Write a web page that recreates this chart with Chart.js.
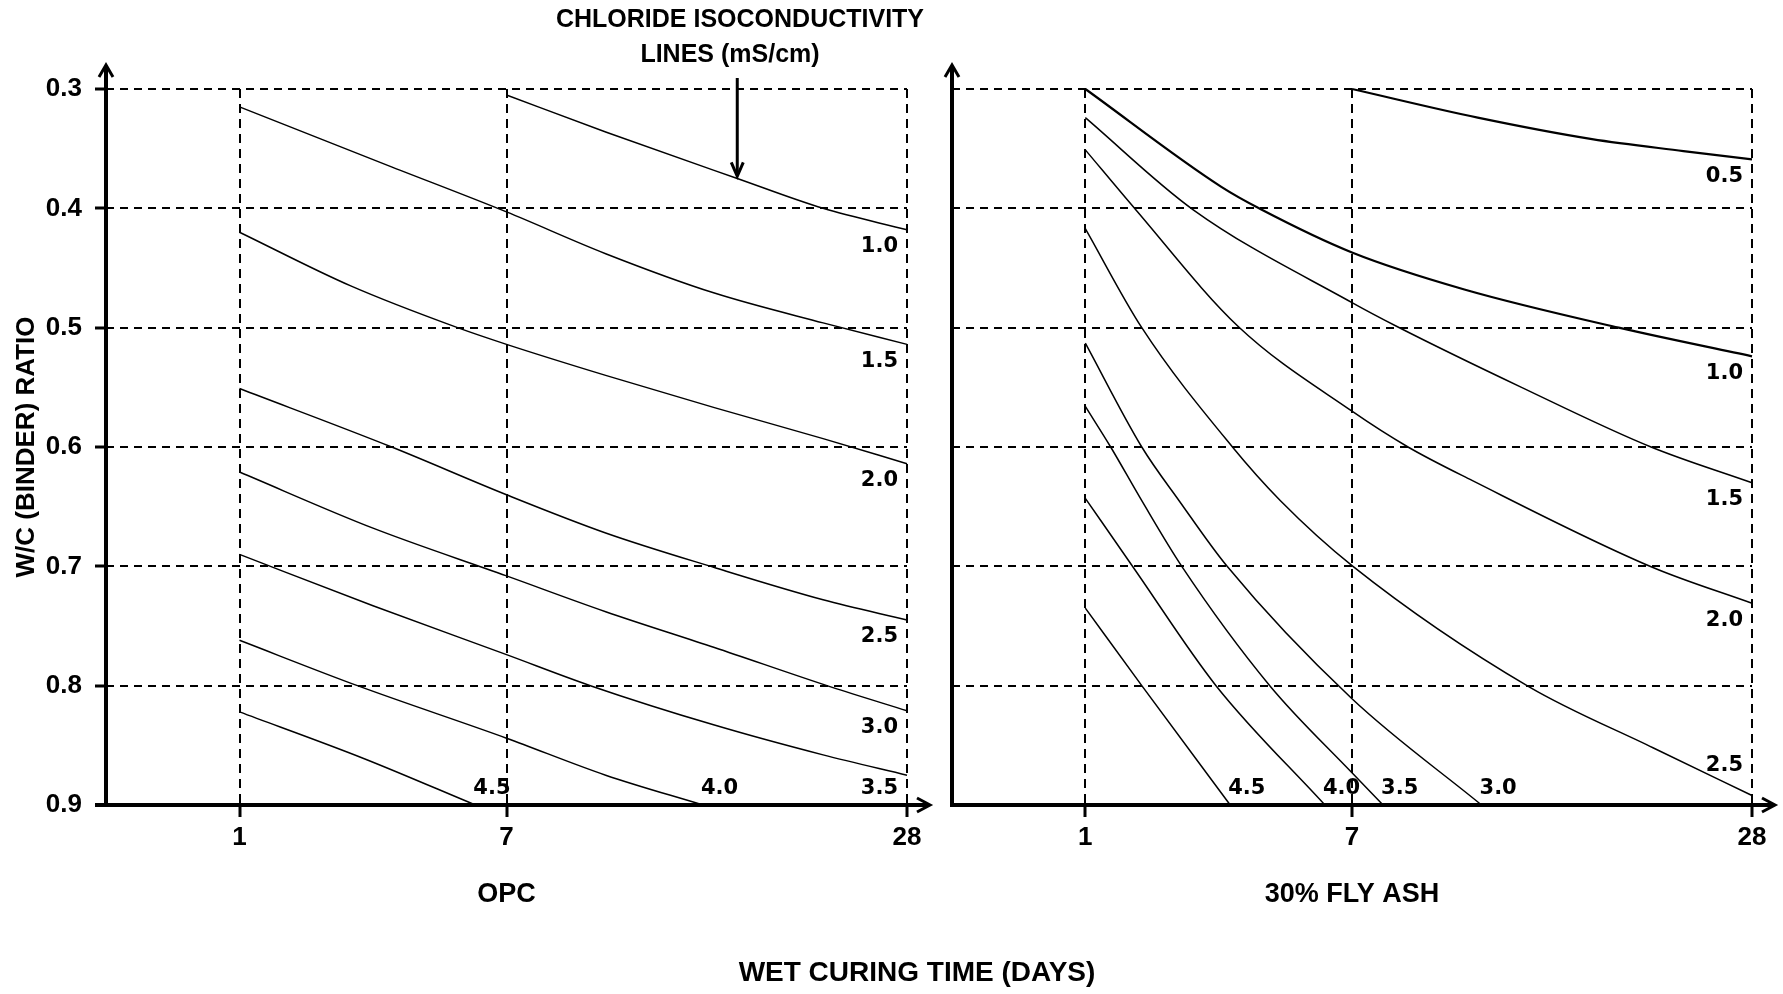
<!DOCTYPE html>
<html>
<head>
<meta charset="utf-8">
<title>Chloride isoconductivity lines</title>
<script src="https://cdn.jsdelivr.net/npm/chart.js@4.4.1/dist/chart.umd.min.js"></script>
<style>
  body { margin: 0; background: #fff; }
  #page { position: relative; width: 1783px; height: 994px; overflow: hidden;
          font-family: "Liberation Sans", Arial, sans-serif; font-weight: bold; color: #000; }
  canvas { position: absolute; top: 0; }
  .txt { position: absolute; white-space: nowrap; transform: translateX(-50%); }
</style>
</head>
<body>
<div id="page">
  <canvas id="opcChart" width="935" height="994" style="left:0"></canvas>
  <canvas id="ashChart" width="848" height="994" style="left:935px"></canvas>
  <div class="txt" style="left:740px;top:3px;font-size:25px;line-height:30px">CHLORIDE ISOCONDUCTIVITY</div>
  <div class="txt" style="left:730px;top:38px;font-size:25px;line-height:30px">LINES (mS/cm)</div>
  <div class="txt" style="left:917px;top:955px;font-size:28px;line-height:34px">WET CURING TIME (DAYS)</div>
</div>
<script>
// axis ticks
const xTickDays = [1, 7, 28];
const yTickRatios = [0.3, 0.4, 0.5, 0.6, 0.7, 0.8, 0.9];

// chloride isoconductivity levels (mS/cm)
const opcLevels = ['1.0', '1.5', '2.0', '2.5', '3.0', '3.5', '4.0', '4.5'];
const ashLevels = ['0.5', '1.0', '1.5', '2.0', '2.5', '3.0', '3.5', '4.0', '4.5'];

// OPC curves, [wet curing days, w/c ratio]
const opc10 = [[7, 0.305], [12.2, 0.336], [19.1, 0.375], [23.6, 0.400], [28, 0.418]];
const opc15 = [[1, 0.315], [4.33, 0.364], [7, 0.403], [12.2, 0.438], [17.9, 0.471], [23.6, 0.496], [28, 0.514]];
const opc20 = [[1, 0.420], [3.5, 0.465], [5.9, 0.500], [7, 0.514], [12.2, 0.540], [17.9, 0.567], [23.6, 0.593], [28, 0.614]];
const opc25 = [[1, 0.551], [4.42, 0.600], [7, 0.640], [12.2, 0.672], [17.9, 0.701], [23.6, 0.728], [28, 0.745]];
const opc30 = [[1, 0.621], [4, 0.668], [7, 0.708], [12.2, 0.738], [17.9, 0.768], [24, 0.801], [28, 0.821]];
const opc35 = [[1, 0.690], [4, 0.733], [7, 0.774], [11.4, 0.800], [17.9, 0.833], [23.6, 0.858], [28, 0.875]];
const opc40 = [[1, 0.762], [3.65, 0.800], [7, 0.844], [12.2, 0.875], [17.3, 0.900]];
const opc45 = [[1, 0.822], [3.79, 0.861], [6.3, 0.900]];

// 30% fly ash curves
const ash05 = [[7, 0.300], [13.6, 0.324], [19.6, 0.342], [24.4, 0.352], [28, 0.359]];
const ash10 = [[1, 0.300], [4.06, 0.382], [4.96, 0.401], [7, 0.437], [12.9, 0.468], [21, 0.500], [28, 0.524]];
const ash15 = [[1, 0.324], [3.42, 0.401], [7, 0.479], [9.36, 0.499], [15.9, 0.550], [22.7, 0.600], [28, 0.630]];
const ash20 = [[1, 0.351], [2.13, 0.401], [4.44, 0.499], [7, 0.570], [9.94, 0.600], [13.3, 0.628], [22.8, 0.701], [28, 0.731]];
const ash25 = [[1, 0.417], [2.27, 0.500], [4.31, 0.600], [5.39, 0.645], [7.05, 0.700], [16.3, 0.801], [22.8, 0.852], [28, 0.892]];
const ash30 = [[1, 0.513], [2.27, 0.600], [3.11, 0.645], [4.19, 0.700], [7, 0.811], [13.8, 0.900]];
const ash35 = [[1, 0.566], [1.57, 0.600], [2.27, 0.645], [3.17, 0.700], [5.15, 0.800], [7, 0.873], [8.63, 0.900]];
const ash40 = [[1, 0.643], [2.1, 0.702], [3.94, 0.800], [6.39, 0.900]];
const ash45 = [[1, 0.735], [2.27, 0.800], [4.26, 0.900]];

// where the callout arrow points (on the OPC 1.0 line)
const calloutPoint = [19.1, 0.374];

// the time axis is drawn piecewise: 1-7 days takes 40% of the width, 7-28 the rest
function dayToPos(d) {
    return d <= 7 ? 0.4 * (d - 1) / 6 : 0.4 + 0.6 * (d - 7) / 21;
}

const axisFont = { family: 'Liberation Sans', size: 26, weight: 'bold' };
const titleFont = { family: 'Liberation Sans', size: 27, weight: 'bold' };
const curveFont = 'bold 21px "DejaVu Sans"';

// axes with arrow heads, drawn over everything
const axisArrows = {
    id: 'axisArrows',
    afterDraw(chart, args, opts) {
        const { ctx, chartArea: a } = chart;
        ctx.save();
        ctx.strokeStyle = '#000';
        ctx.lineWidth = 4;
        ctx.beginPath();
        ctx.moveTo(a.left, a.bottom + 2);
        ctx.lineTo(a.left, a.top - 23);
        ctx.stroke();
        ctx.beginPath();
        ctx.moveTo(a.left - opts.xStart, a.bottom);
        ctx.lineTo(a.right + 22, a.bottom);
        ctx.stroke();
        ctx.lineWidth = 3;
        ctx.beginPath();
        ctx.moveTo(a.left - 7, a.top - 12);
        ctx.lineTo(a.left, a.top - 24);
        ctx.lineTo(a.left + 7, a.top - 12);
        ctx.stroke();
        ctx.beginPath();
        ctx.moveTo(a.right + 10, a.bottom - 7);
        ctx.lineTo(a.right + 23, a.bottom);
        ctx.lineTo(a.right + 10, a.bottom + 7);
        ctx.stroke();
        ctx.restore();
    }
};

// level number next to the end of each line
const curveLabels = {
    id: 'curveLabels',
    afterDatasetsDraw(chart) {
        const { ctx, chartArea: a } = chart;
        ctx.save();
        ctx.font = curveFont;
        ctx.fillStyle = '#000';
        ctx.textBaseline = 'middle';
        chart.data.datasets.forEach((ds, i) => {
            const pts = chart.getDatasetMeta(i).data;
            const end = pts[pts.length - 1];
            if (end.x < a.right - 2) {
                // line runs into the time axis
                ctx.textAlign = 'left';
                ctx.fillText(ds.label, end.x - 2, a.bottom - 16);
            } else {
                ctx.textAlign = 'right';
                const below = Math.min(end.y + 17, a.bottom - 16);
                ctx.fillText(ds.label, a.right - 9, a.bottom - end.y < 22 ? end.y - 30 : below);
            }
        });
        ctx.restore();
    }
};

// arrow under the "isoconductivity lines" note
const callout = {
    id: 'callout',
    afterDatasetsDraw(chart, args, opts) {
        if (!opts.point) return;
        const { ctx, scales } = chart;
        const x = scales.x.getPixelForValue(dayToPos(opts.point[0]));
        const y = scales.y.getPixelForValue(opts.point[1]);
        const top = scales.y.getPixelForValue(0.3) - 11;
        ctx.save();
        ctx.strokeStyle = '#000';
        ctx.lineWidth = 3;
        ctx.beginPath();
        ctx.moveTo(x, top);
        ctx.lineTo(x, y - 2);
        ctx.stroke();
        ctx.beginPath();
        ctx.moveTo(x - 6, y - 15);
        ctx.lineTo(x, y - 1);
        ctx.lineTo(x + 6, y - 15);
        ctx.stroke();
        ctx.restore();
    }
};

function makeChart(id, levels, curves, cfg) {
    const datasets = curves.map((pts, i) => ({
        label: levels[i],
        data: pts.map(p => ({ x: dayToPos(p[0]), y: p[1] })),
        showLine: true,
        borderColor: '#000',
        borderWidth: (cfg.widths && cfg.widths[i]) || 1.5,
        pointRadius: 0,
        cubicInterpolationMode: 'monotone',
        clip: false
    }));
    return new Chart(document.getElementById(id), {
        type: 'scatter',
        data: { datasets },
        options: {
            responsive: false,
            animation: false,
            events: [],
            layout: { padding: { top: 89, right: cfg.padRight, bottom: 79, left: 0 } },
            plugins: {
                legend: { display: false },
                tooltip: { enabled: false },
                axisArrows: { xStart: cfg.xStart },
                callout: { point: cfg.callout }
            },
            scales: {
                x: {
                    type: 'linear',
                    min: -0.2,
                    max: 1,
                    afterBuildTicks: s => { s.ticks = xTickDays.map(d => ({ value: dayToPos(d) })); },
                    afterFit: s => { s.height = 110; },
                    ticks: {
                        callback: (v, i) => String(xTickDays[i]),
                        color: '#000', font: axisFont, padding: 5, autoSkip: false, maxRotation: 0
                    },
                    grid: { color: '#000', lineWidth: 2, tickLength: 12, tickWidth: 3, tickColor: '#000', tickBorderDash: [] },
                    border: { display: false, dash: [9, 6] },
                    title: { display: true, text: cfg.title, color: '#000', font: titleFont, padding: { top: 0, bottom: 4 } }
                },
                y: {
                    type: 'linear',
                    reverse: true,
                    min: 0.3,
                    max: 0.9,
                    afterBuildTicks: s => { s.ticks = yTickRatios.map(v => ({ value: v })); },
                    afterFit: s => { s.width = cfg.yWidth; },
                    ticks: {
                        display: cfg.yLabels,
                        callback: v => v.toFixed(1),
                        color: '#000', font: axisFont, padding: 13
                    },
                    grid: { color: '#000', lineWidth: 2, drawTicks: cfg.yLabels, tickLength: 11, tickWidth: 3, tickColor: '#000', tickBorderDash: [] },
                    border: { display: false, dash: [8, 6] },
                    title: {
                        display: cfg.yLabels, text: 'W/C (BINDER) RATIO', color: '#000',
                        font: axisFont, padding: { top: 11, bottom: 0 }
                    }
                }
            }
        },
        plugins: [axisArrows, curveLabels, callout]
    });
}

makeChart('opcChart', opcLevels, [opc10, opc15, opc20, opc25, opc30, opc35, opc40, opc45], {
    title: 'OPC', padRight: 28, yWidth: 106, yLabels: true, xStart: 11, callout: calloutPoint
});
makeChart('ashChart', ashLevels, [ash05, ash10, ash15, ash20, ash25, ash30, ash35, ash40, ash45], {
    title: '30% FLY ASH', padRight: 31, yWidth: 17, yLabels: false, xStart: 0, callout: null,
    widths: [2.2, 2.2]
});
</script>
</body>
</html>
